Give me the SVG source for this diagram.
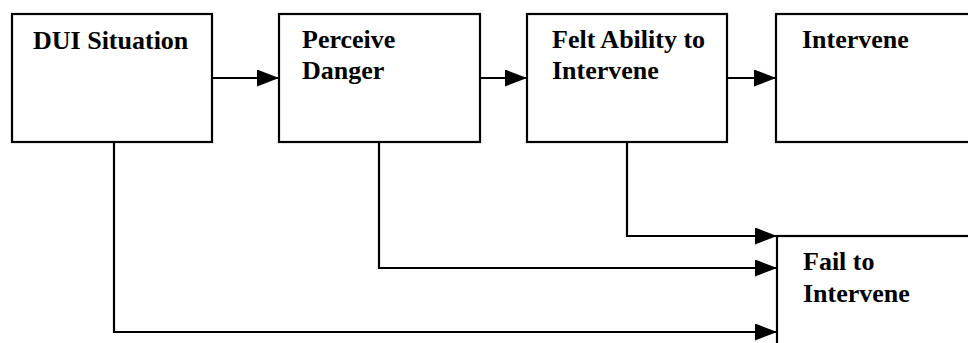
<svg xmlns="http://www.w3.org/2000/svg" width="968" height="343" viewBox="0 0 968 343">
<style>
.box{fill:#fff;stroke:#000;stroke-width:2.2}
.lbl{font-family:"Liberation Serif","Times New Roman",serif;font-size:26px;font-weight:bold;fill:#000}
.conn{fill:none;stroke:#000;stroke-width:2.2}
</style>
<defs>
<marker id="ah" viewBox="0 0 22 17" refX="22" refY="8.5" markerWidth="22" markerHeight="17" markerUnits="userSpaceOnUse" orient="auto">
<path d="M0,0 L22,8.5 L0,17 z" fill="#000"/>
</marker>
</defs>
<rect width="968" height="343" fill="#fff"/>
<g id="dui">
<rect class="box" x="12" y="14" width="200" height="128"/>
<text class="lbl" x="33" y="49">DUI Situation</text>
</g>
<g id="perceive">
<rect class="box" x="279" y="14" width="201" height="128"/>
<text class="lbl" x="302" y="48">Perceive</text>
<text class="lbl" x="302" y="79">Danger</text>
</g>
<g id="felt">
<rect class="box" x="527" y="14" width="200" height="128"/>
<text class="lbl" x="552" y="48">Felt Ability to</text>
<text class="lbl" x="552" y="79">Intervene</text>
</g>
<g id="intervene">
<rect class="box" x="776" y="14" width="210" height="128"/>
<text class="lbl" x="802" y="48">Intervene</text>
</g>
<g id="fail">
<rect class="box" x="777" y="236" width="210" height="120"/>
<text class="lbl" x="803" y="270">Fail to</text>
<text class="lbl" x="803" y="302">Intervene</text>
</g>
<g id="connectors">
<path class="conn" d="M212,78 H279" marker-end="url(#ah)"/>
<path class="conn" d="M480,78 H527" marker-end="url(#ah)"/>
<path class="conn" d="M727,78 H776" marker-end="url(#ah)"/>
<path class="conn" d="M627,142 V236 H777" marker-end="url(#ah)"/>
<path class="conn" d="M379,142 V268 H777" marker-end="url(#ah)"/>
<path class="conn" d="M114,142 V332 H777" marker-end="url(#ah)"/>
</g>
</svg>
